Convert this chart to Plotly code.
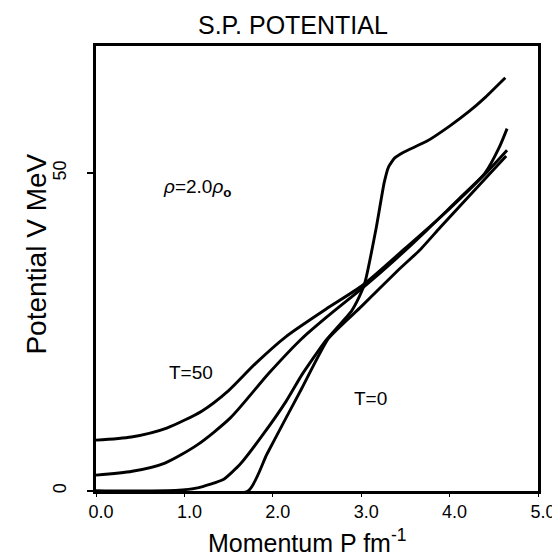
import plotly.graph_objects as go

# Momentum P (fm^-1) and single-particle potential V (MeV), rho = 2.0 rho_0
p_t50_a = [0.0, 0.4, 0.8, 1.2, 1.5, 1.8, 2.15, 2.6, 3.02, 3.5, 4.0, 4.4, 4.56, 4.65]
v_t50_a = [8.0, 8.5, 9.9, 12.6, 15.8, 20.0, 24.3, 28.6, 32.4, 38.2, 44.4, 50.0, 54.0, 57.0]

p_t50_b = [0.0, 0.41, 0.78, 1.15, 1.52, 1.96, 2.33, 2.63, 3.02, 3.4, 3.74, 4.11, 4.41, 4.65]
v_t50_b = [2.5, 3.1, 4.4, 7.3, 11.5, 18.6, 24.0, 27.6, 32.0, 36.6, 41.0, 46.0, 50.0, 53.6]

p_t0_a = [0.0, 0.9, 1.15, 1.44, 1.63, 1.89, 2.15, 2.33, 2.59, 2.89, 2.98, 3.04, 3.17, 3.26,
          3.31, 3.38, 3.48, 3.74, 4.0, 4.22, 4.41, 4.63]
v_t0_a = [0.0, 0.1, 0.5, 1.8, 4.2, 8.9, 14.1, 18.3, 23.5, 28.3, 30.6, 32.7, 41.4, 48.5,
          51.0, 52.4, 53.3, 55.0, 57.4, 59.7, 62.0, 65.0]

p_t0_b = [0.0, 1.72, 1.93, 2.15, 2.33, 2.63, 3.0, 3.4, 3.67, 3.89, 4.3, 4.64]
v_t0_b = [0.0, 0.0, 5.7, 11.5, 16.2, 24.0, 29.0, 34.5, 38.0, 41.4, 47.6, 52.7]

x_tick_vals = [0, 1, 2, 3, 4, 5]
x_tick_text = ["0.0", "1.0", "2.0", "3.0", "4.0", "5.0"]
y_tick_vals = [0, 50]
y_tick_text = ["0", "50"]

FONT = "Liberation Sans, Arial, sans-serif"

fig = go.Figure()
series = [(p_t50_a, v_t50_a, 0.7), (p_t50_b, v_t50_b, 0.7),
          (p_t0_a, v_t0_a, 0.45), (p_t0_b, v_t0_b, 0.5)]
for px, pv, sm in series:
    fig.add_trace(go.Scatter(x=px, y=pv, mode="lines",
                             line=dict(color="black", width=2.9, shape="spline", smoothing=sm),
                             showlegend=False, hoverinfo="skip"))

fig.update_layout(
    width=560, height=555,
    margin=dict(l=88, r=22, t=38, b=72),
    paper_bgcolor="white", plot_bgcolor="white",
    font=dict(family=FONT, color="black"),
    showlegend=False,
)
fig.update_xaxes(range=[0, 5], tickvals=x_tick_vals, ticktext=x_tick_text,
                 showline=True, mirror=True, linecolor="black", linewidth=2.5,
                 ticks="outside", ticklen=3, tickwidth=1, tickcolor="black",
                 tickfont=dict(size=18, family=FONT, color="black"),
                 ticklabelshift=5,
                 showgrid=False, zeroline=False)
fig.update_yaxes(range=[0, 70], tickvals=y_tick_vals, ticktext=y_tick_text,
                 showline=True, mirror=True, linecolor="black", linewidth=2.5,
                 ticks="outside", ticklen=6, tickwidth=1.5, tickcolor="black",
                 tickangle=-90, ticklabelstandoff=14,
                 tickfont=dict(size=18, family=FONT, color="black"),
                 showgrid=False, zeroline=False)

fig.add_annotation(text="S.P. POTENTIAL", xref="paper", yref="paper",
                   x=(289 - 88) / 450, y=(483 - 18) / 444, xanchor="center", yanchor="middle",
                   showarrow=False, font=dict(size=25, family=FONT, color="black"))
fig.add_annotation(text="Momentum P fm<sup>-1</sup>", xref="paper", yref="paper",
                   x=(303 - 88) / 450, y=(483 - 551) / 444, xanchor="center", yanchor="bottom",
                   showarrow=False, font=dict(size=25, family=FONT, color="black"))
fig.add_annotation(text="Potential V MeV", xref="paper", yref="paper",
                   x=(27 - 88) / 450, y=(483 - 247) / 444, xanchor="center", yanchor="middle",
                   textangle=-90, showarrow=False, font=dict(size=28, family=FONT, color="black"))
fig.add_annotation(text="<i>ρ</i>=2.0<i>ρ</i><sub><b>o</b></sub>", x=0.74, y=47.6,
                   xanchor="left", yanchor="middle", showarrow=False,
                   font=dict(size=19, family=FONT, color="black"))
fig.add_annotation(text="T=50", x=1.07, y=18.6, xanchor="center", yanchor="middle",
                   showarrow=False, font=dict(size=19, family=FONT, color="black"))
fig.add_annotation(text="T=0", x=3.11, y=14.5, xanchor="center", yanchor="middle",
                   showarrow=False, font=dict(size=19, family=FONT, color="black"))

fig.write_html("out.html")
